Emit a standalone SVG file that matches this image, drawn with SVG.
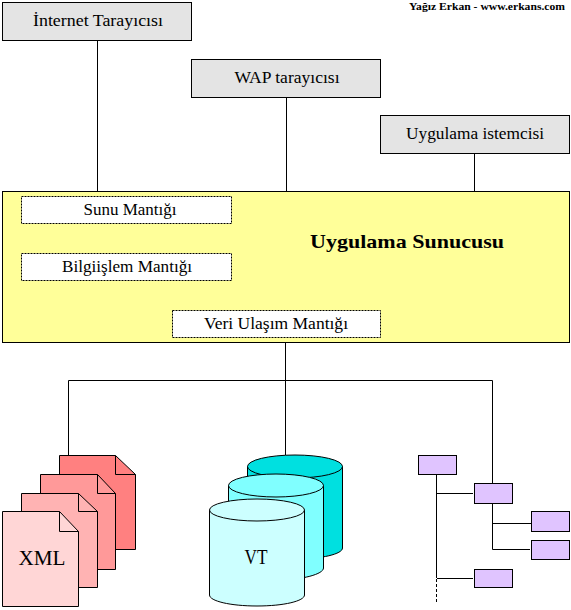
<svg xmlns="http://www.w3.org/2000/svg" width="571" height="610" viewBox="0 0 571 610">
<style>
text{font-family:"Liberation Serif","Times New Roman",serif;fill:#000;text-anchor:middle}
.l{font-size:16px}
.client{fill:#e4e4e4;stroke:#000;stroke-width:1}
.inner{fill:#fff;stroke:#000;stroke-width:1;stroke-dasharray:2 1}
.c{fill:none;stroke:#000;stroke-width:1}
.t{fill:#e0c4ff;stroke:#000;stroke-width:1}
</style>
<rect width="571" height="610" fill="#fff"/>
<g id="connectors">
<path class="c" d="M97.500 40V191M286.500 97V191M474.500 153V191M285.500 342V455M68.500 455V380.500H492.500V483"/>
</g>
<text x="487" y="10" font-size="11px" font-weight="bold" textLength="156" lengthAdjust="spacingAndGlyphs">Yağız Erkan - www.erkans.com</text>
<g id="internet"><rect class="client" x="2.500" y="2.500" width="189" height="38"/><text class="l" x="98" y="26" textLength="130" lengthAdjust="spacingAndGlyphs">İnternet Tarayıcısı</text></g>
<g id="wap"><rect class="client" x="191.500" y="59.500" width="189" height="38"/><text class="l" x="287" y="83" textLength="105" lengthAdjust="spacingAndGlyphs">WAP tarayıcısı</text></g>
<g id="istemci"><rect class="client" x="380.500" y="115.500" width="189" height="38"/><text class="l" x="475" y="139" textLength="138" lengthAdjust="spacingAndGlyphs">Uygulama istemcisi</text></g>
<g id="sunucu"><rect x="2.500" y="191.500" width="567" height="151" fill="#ffff99" stroke="#000"/>
<text x="407" y="248" font-size="19px" font-weight="bold" textLength="194" lengthAdjust="spacingAndGlyphs">Uygulama Sunucusu</text></g>
<g id="sunu"><rect class="inner" x="21.500" y="196.500" width="210" height="27"/><text class="l" x="130" y="215" textLength="93" lengthAdjust="spacingAndGlyphs">Sunu Mantığı</text></g>
<g id="bilgi"><rect class="inner" x="21.500" y="253.500" width="210" height="27"/><text class="l" x="127" y="272" textLength="130" lengthAdjust="spacingAndGlyphs">Bilgiişlem Mantığı</text></g>
<g id="veri"><rect class="inner" x="172.500" y="310.500" width="208" height="27"/><text class="l" x="276" y="329" textLength="144" lengthAdjust="spacingAndGlyphs">Veri Ulaşım Mantığı</text></g>
<g id="xml">
<path d="M59.500 455.500H115.500L135.500 474.500V549.500H59.500Z" fill="#ff8080" stroke="#000"/><path d="M115.500 455.500V474.500H135.500" class="c"/>
<path d="M40.500 474.500H97.500L115.500 493.500V569.500H40.500Z" fill="#ff9999" stroke="#000"/><path d="M97.500 474.500V493.500H115.500" class="c"/>
<path d="M21.500 493.500H78.500L97.500 511.500V587.500H21.500Z" fill="#ffb3b3" stroke="#000"/><path d="M78.500 493.500V511.500H97.500" class="c"/>
<path d="M2.500 511.500H59.500L78.500 531.500V606.500H2.500Z" fill="#ffd6d6" stroke="#000"/><path d="M59.500 511.500V531.500H78.500" class="c"/>
<text x="42" y="565" font-size="20px" textLength="47" lengthAdjust="spacingAndGlyphs">XML</text>
</g>
<g id="vt">
<path d="M247.500 466.500V548C247.500 554 268 559 295 559S342.500 554 342.500 548V466.500Z" fill="#00e0e0" stroke="#000"/><ellipse cx="295" cy="466.500" rx="47.500" ry="11.500" fill="#00e0e0" stroke="#000"/>
<path d="M228.500 485.500V568C228.500 574 249 580 276 580S323.500 574 323.500 568V485.500Z" fill="#80ffff" stroke="#000"/><ellipse cx="276" cy="485.500" rx="47.500" ry="11.500" fill="#80ffff" stroke="#000"/>
<path d="M209.500 510V595C209.500 601 230 606 257 606S304.500 601 304.500 595V510Z" fill="#ccffff" stroke="#000"/><ellipse cx="257" cy="510" rx="47.500" ry="11" fill="#ccffff" stroke="#000"/>
<text x="256" y="564" font-size="20px" textLength="23" lengthAdjust="spacingAndGlyphs">VT</text>
</g>
<g id="tree">
<path class="c" d="M436.500 474V578M437 493.500H473M437 578.500H473M492.500 503V549.500H530M493 523.500H531"/>
<path class="c" stroke-dasharray="3 2" d="M436.500 579V604"/>
<rect class="t" x="418.500" y="455.500" width="38" height="19"/>
<rect class="t" x="474.500" y="483.500" width="38" height="20"/>
<rect class="t" x="531.500" y="511.500" width="38" height="20"/>
<rect class="t" x="531.500" y="540.500" width="38" height="19"/>
<rect class="t" x="474.500" y="569.500" width="38" height="18"/>
</g>
</svg>
